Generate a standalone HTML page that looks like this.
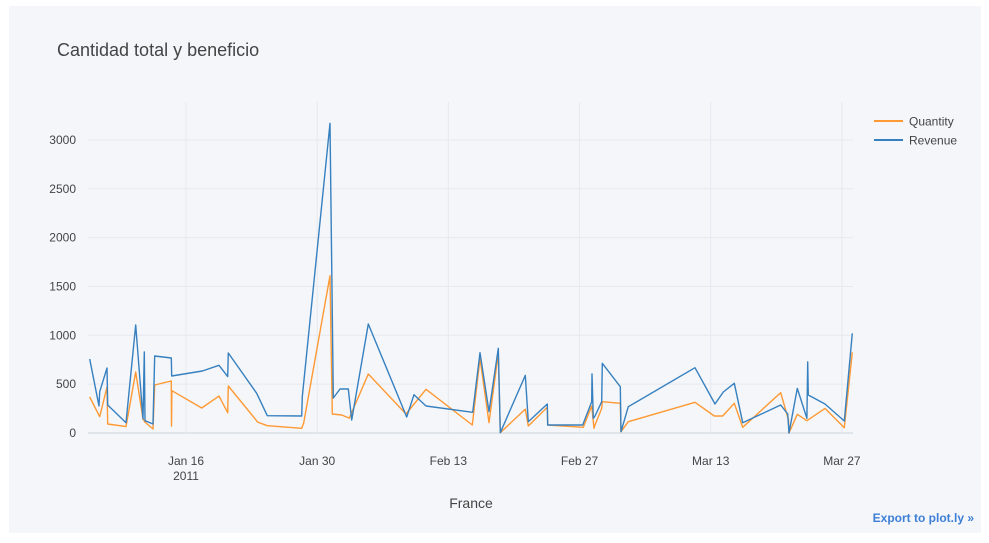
<!DOCTYPE html>
<html><head><meta charset="utf-8"><style>
html,body{margin:0;padding:0;background:#fff;width:989px;height:543px;overflow:hidden}
svg{display:block;font-family:"Liberation Sans",Arial,sans-serif}
</style></head><body>
<svg id="chart" width="989" height="543">
<rect x="9" y="6" width="972" height="527" fill="#f4f6fa"/>
<text x="57" y="56" font-size="18" fill="#444">Cantidad total y beneficio</text>
<g id="grid"></g><g id="xticks"></g><g id="yticks"></g><g id="series"></g>
<text x="471" y="508" font-size="14" fill="#444" text-anchor="middle">France</text>
<g>
<g><line x1="874" y1="121" x2="903" y2="121" stroke="#ff9933" stroke-width="2"/><text x="909" y="125.5" font-size="12" fill="#444">Quantity</text></g>
<g><line x1="874" y1="140" x2="903" y2="140" stroke="#3780bf" stroke-width="2"/><text x="909" y="144.5" font-size="12" fill="#444">Revenue</text></g>
</g>
<text x="974" y="522" font-size="12" font-weight="bold" fill="#3d7fd6" text-anchor="end">Export to plot.ly »</text>
</svg>
<script>
// dates as day-of-year 2011 (Jan 1 = 1)
const revDays=[5.72,6.72,6.79,7.57,7.64,9.60,10.63,11.41,11.55,11.62,12.48,12.66,14.43,14.47,17.74,19.52,20.45,20.51,23.55,24.68,28.35,28.41,31.37,31.72,32.44,33.32,33.68,35.46,39.55,40.33,41.61,46.60,47.38,48.34,49.33,49.54,52.21,52.53,54.56,54.60,58.34,59.30,59.33,59.47,59.65,60.36,60.43,62.35,62.42,63.20,70.32,72.46,73.34,74.52,75.41,79.47,80.22,80.35,81.24,82.27,82.35,82.41,84.20,86.26,87.11];
const revVals=[757,276,423,665,287,105,1105,143,829,126,92,788,768,583,635,693,577,819,406,177,174,372,3170,358,450,450,133,1116,164,392,276,212,822,218,867,3,590,116,297,82,82,320,604,150,174,320,713,474,13,269,668,297,420,509,105,287,194,0,457,150,727,389,297,123,1020];
const qtyDays=[5.72,6.79,7.57,7.64,9.60,10.63,11.41,11.62,12.48,12.66,14.43,14.45,14.49,17.68,19.52,20.45,20.51,23.65,24.68,28.35,28.56,31.37,31.61,32.62,33.43,35.46,39.48,41.61,46.55,47.38,48.34,49.33,49.54,52.21,52.53,54.56,54.60,58.40,59.30,59.54,59.65,60.36,60.43,62.35,62.42,63.20,70.32,72.38,73.28,74.52,75.41,79.47,80.30,80.35,81.24,82.27,84.20,86.26,87.11];
const qtyVals=[368,167,471,92,65,624,143,112,41,491,532,72,433,256,378,208,481,112,75,48,102,1610,194,184,153,604,194,447,82,764,105,815,3,245,72,263,82,58,276,48,82,252,320,304,13,116,314,174,174,304,58,412,133,0,191,126,252,54,826];
const yTicks=[0,500,1000,1500,2000,2500,3000];
const xTickDays=[16,30,44,58,72,86];
const xTickLabels=["Jan 16","Jan 30","Feb 13","Feb 27","Mar 13","Mar 27"];
const NS="http://www.w3.org/2000/svg";
const X0=88,X1=853,Y0=433,Y1=102;
const xs=d=>186+(d-16)*9.37;
const ys=v=>433-v*0.0977;
function mk(tag,attrs,parent){const e=document.createElementNS(NS,tag);for(const k in attrs)e.setAttribute(k,attrs[k]);parent.appendChild(e);return e;}
const grid=document.getElementById('grid'),xt=document.getElementById('xticks'),yt=document.getElementById('yticks'),ser=document.getElementById('series');
yTicks.forEach(v=>{
  const l=mk('line',{x1:X0,x2:X1,y1:ys(v),y2:ys(v),stroke:v===0?'#e0e5ec':'#e6e9ef','stroke-width':v===0?2:1},grid);
  
  
  const t=mk('text',{x:76,y:ys(v)+4,'font-size':12,fill:'#444','text-anchor':'end'},yt);
  t.textContent=v;
  
  
});
xTickDays.forEach((d,i)=>{
  const l=mk('line',{x1:xs(d),x2:xs(d),y1:Y1,y2:Y0,stroke:'#e6e9ef','stroke-width':1},grid);
  
  
  const t=mk('text',{x:xs(d),y:465,'font-size':12,fill:'#444','text-anchor':'middle'},xt);
  t.textContent=xTickLabels[i];
  
  
});
const yr=mk('text',{x:xs(16),y:480,'font-size':12,fill:'#444','text-anchor':'middle'},xt);
yr.textContent='2011';


function line(days,vals,color,name){
  const pts=days.map((d,i)=>xs(d).toFixed(1)+','+ys(vals[i]).toFixed(1)).join(' ');
  const p=mk('polyline',{points:pts,fill:'none',stroke:color,'stroke-width':1.4,'stroke-linejoin':'round'},ser);
  
  
}
line(qtyDays,qtyVals,'#ff9933','quantity-line');
line(revDays,revVals,'#3780bf','revenue-line');
</script>
</body></html>
